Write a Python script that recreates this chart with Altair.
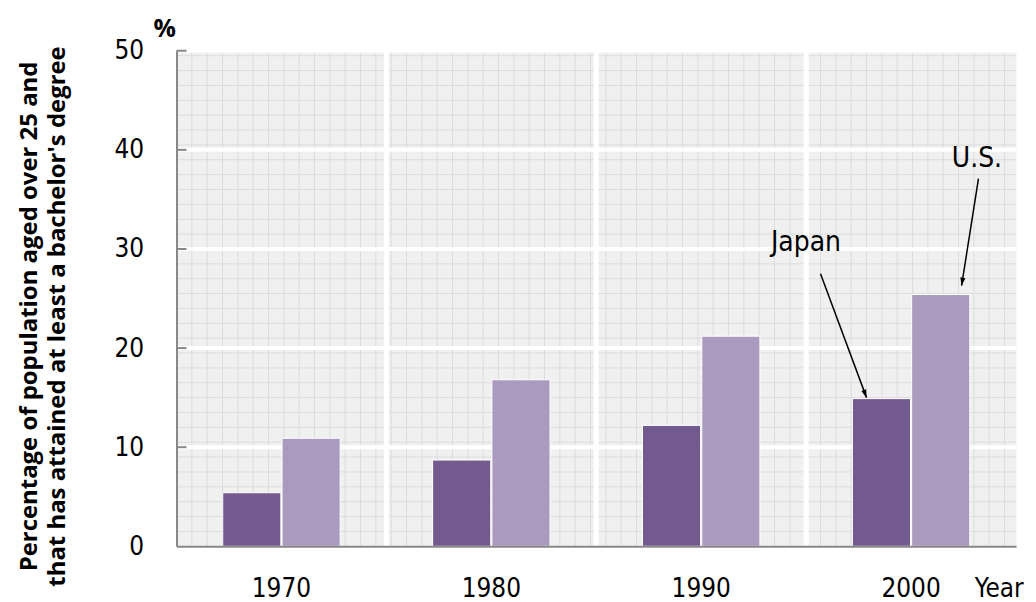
import altair as alt
import pandas as pd

# ---------------- data ----------------
years = ["1970", "1980", "1990", "2000"]
series = ["Japan", "U.S."]
japan = [5.4, 8.7, 12.2, 14.9]
us = [10.9, 16.8, 21.2, 25.4]
y_ticks = [0, 10, 20, 30, 40, 50]
y_title = ["Percentage of population aged over 25 and",
           "that has attained at least a bachelor's degree"]

# annotation labels (positions in background-grid units along x, % along y)
ann_labels = ["Japan", "U.S."]
ann_text_x = [41.05, 52.2]
ann_text_y = [29.8, 38.3]
arrow_x0 = [42.0, 52.3]
arrow_y0 = [27.5, 37.1]
arrow_x1 = [45.0, 51.2]
arrow_y1 = [15.0, 26.3]
arrow_angle = [339.5, 9.0]

# decorative background grid
grid_cols = list(range(1, 55))
grid_rows = [1.5 * k for k in range(1, 34)]
X_GRID_MAX = 54.75

LABEL_FONT = "'Liberation Sans Narrow', 'Arial Narrow', 'DejaVu Sans Condensed', sans-serif"
TITLE_FONT = "Open Sans"

bars_df = pd.DataFrame(
    [{"year": y, "series": "Japan", "value": v} for y, v in zip(years, japan)]
    + [{"year": y, "series": "U.S.", "value": v} for y, v in zip(years, us)]
)
ann_df = pd.DataFrame({"label": ann_labels, "x": ann_text_x, "y": ann_text_y})
arrow_lines = pd.DataFrame(
    [{"id": i, "x": arrow_x0[i], "y": arrow_y0[i], "o": 0} for i in range(2)]
    + [{"id": i, "x": arrow_x1[i], "y": arrow_y1[i], "o": 1} for i in range(2)]
)
arrow_heads = pd.DataFrame({"x": arrow_x1, "y": arrow_y1, "angle": arrow_angle})

ydom = alt.Scale(domain=[0, 50], nice=False, zero=True)
xq = alt.Scale(domain=[0, X_GRID_MAX], nice=False, zero=False)
xb = alt.Scale(domain=years, paddingInner=0, paddingOuter=0)

y_axis = alt.Axis(
    values=y_ticks, title=y_title, ticks=False, tickSize=0, grid=False,
    labelFont=LABEL_FONT, labelFontSize=26, labelColor="black",
    labelPadding=33, domainColor="#888888", domainWidth=2, zindex=1,
    titleFont=TITLE_FONT, titleFontSize=24, titleFontWeight="bold",
    titleColor="black", titleLineHeight=28, titlePadding=45, titleY=266,
)


def Y(field):
    return alt.Y(field, scale=ydom, axis=y_axis)


minor_v = alt.Chart(pd.DataFrame({"gx": grid_cols})).mark_rule(
    color="#dcdcdc", strokeWidth=1
).encode(x=alt.X("gx:Q", scale=xq, axis=None))

minor_h = alt.Chart(pd.DataFrame({"gy": grid_rows})).mark_rule(
    color="#dcdcdc", strokeWidth=1
).encode(y=Y("gy:Q"))

major_h = alt.Chart(pd.DataFrame({"t": y_ticks[1:]})).mark_rule(
    color="white", strokeWidth=4
).encode(y=Y("t:Q"))

major_v = alt.Chart(pd.DataFrame({"year": years[1:]})).mark_rule(
    color="white", strokeWidth=5
).encode(x=alt.X("year:N", scale=xb, axis=None, bandPosition=0))

bars = alt.Chart(bars_df).mark_bar(stroke="white", strokeWidth=1).encode(
    x=alt.X(
        "year:N", scale=xb,
        axis=alt.Axis(
            title="Year", labelAngle=0, ticks=False, tickSize=0, grid=False,
            labelFont=LABEL_FONT, labelFontSize=26, labelColor="black",
            labelBaseline="alphabetic", labelPadding=50,
            domainColor="#888888", domainWidth=2, zindex=1,
            titleFont=LABEL_FONT, titleFontSize=26, titleFontWeight="normal",
            titleColor="black", titleBaseline="alphabetic", titleAlign="left",
            titleX=800, titleY=50,
        ),
    ),
    xOffset=alt.XOffset("series:N", scale=alt.Scale(domain=series, paddingInner=0.02, paddingOuter=0.78)),
    y=Y("value:Q"),
    color=alt.Color("series:N", scale=alt.Scale(domain=series, range=["#72598e", "#a99abe"]), legend=None),
)

tick_marks = alt.Chart(pd.DataFrame({"t": y_ticks[1:]})).mark_rule(
    color="#888888", strokeWidth=2
).encode(y=Y("t:Q"), x=alt.value(0), x2=alt.value(10))

lines = alt.Chart(arrow_lines).mark_line(color="black", strokeWidth=1.5).encode(
    x=alt.X("x:Q", scale=xq, axis=None),
    y=Y("y:Q"),
    detail="id:N", order="o:Q",
)

heads = alt.Chart(arrow_heads).mark_point(
    shape="M0,0L-0.32,-1L0.32,-1Z", filled=True, color="black", opacity=1, size=256
).encode(
    x=alt.X("x:Q", scale=xq, axis=None),
    y=Y("y:Q"),
    angle=alt.Angle("angle:Q", scale=None),
)

texts = alt.Chart(ann_df).mark_text(
    font=LABEL_FONT, fontSize=28, color="black", align="center", baseline="alphabetic"
).encode(
    x=alt.X("x:Q", scale=xq, axis=None),
    y=Y("y:Q"),
    text="label:N",
)

chart = alt.layer(
    minor_v, minor_h, major_h, major_v, bars, tick_marks, lines, heads, texts
).resolve_scale(x="independent").properties(
    width=842, height=497,
    title=alt.TitleParams(
        text="%", anchor="start", frame="group", dx=-23, offset=-4,
        fontSize=25, fontWeight="bold", font=TITLE_FONT, color="black",
    ),
    autosize=alt.AutoSizeParams(type="none"),
    padding={"left": 169, "top": 42, "right": 12, "bottom": 60},
).configure_view(fill="#f0f0f0", stroke="transparent")

chart.save("out.html", embed_options={"renderer": "svg", "actions": False})
